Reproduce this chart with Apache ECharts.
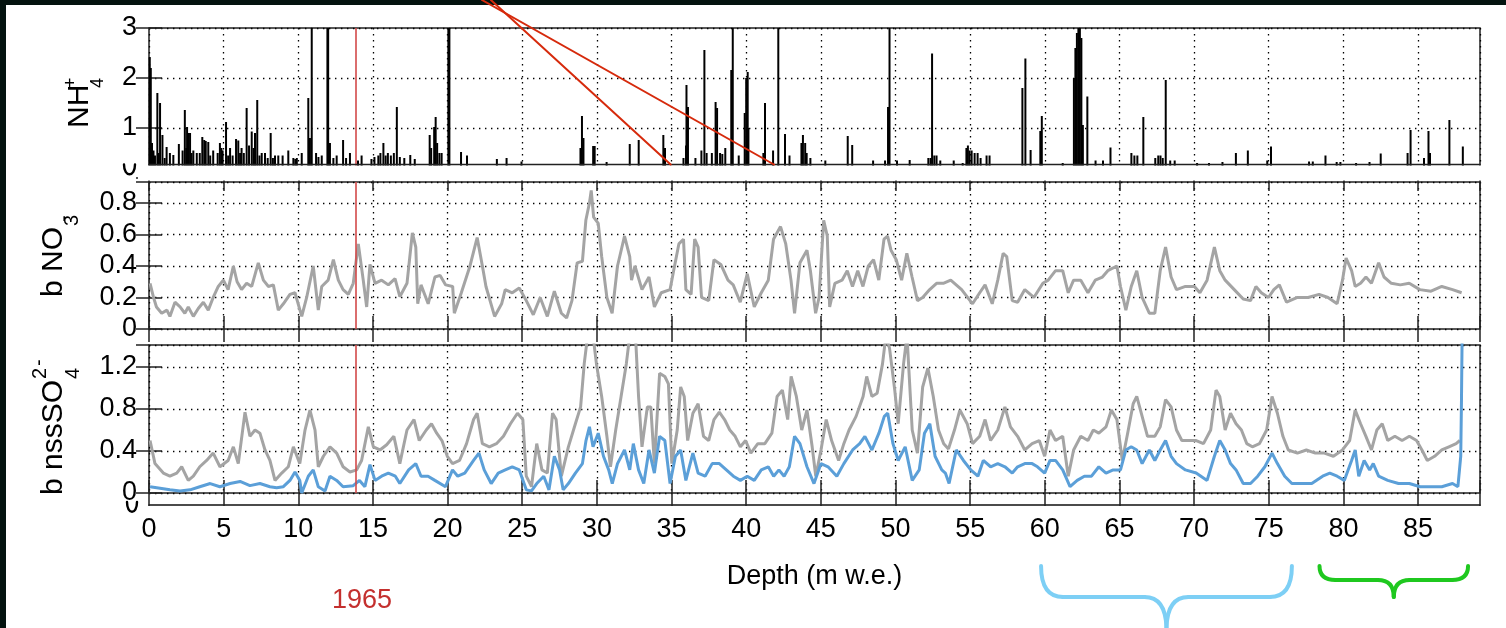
<!DOCTYPE html>
<html>
<head>
<meta charset="utf-8">
<script src="https://cdn.jsdelivr.net/npm/echarts@6/dist/echarts.min.js"></script>
<style>
  html, body { margin: 0; padding: 0; background: #ffffff; }
  #chart { width: 1506px; height: 628px; }
</style>
</head>
<body>
<div id="chart"></div>
<script>
// ---- Ice-core records against depth (m w.e.) ----

// NH4+ concentration peaks: [depth, value]
const nh4Peaks = [
  [0.05,2.42],[0.12,2.2],[0.2,0.7],[0.3,0.55],[0.4,0.45],[0.56,1.7],[0.65,0.5],[0.74,1.5],[0.9,0.86],[1.05,0.4],
  [1.18,0.62],[1.4,0.5],[1.63,0.46],[2.0,0.68],[2.25,0.55],[2.4,1.36],[2.5,0.6],[2.55,1.02],[2.65,0.9],[2.75,0.9],
  [2.85,0.5],[2.97,0.55],[3.2,0.5],[3.4,0.5],[3.57,0.82],[3.7,0.76],[3.8,0.74],[3.97,0.72],[4.1,0.45],[4.3,0.55],
  [4.6,0.5],[4.75,0.7],[4.85,0.6],[4.93,0.55],[5.16,1.12],[5.3,0.45],[5.43,0.6],[5.6,0.45],[5.83,0.78],[5.98,0.75],
  [6.1,0.5],[6.2,0.6],[6.35,0.5],[6.54,1.4],[6.7,0.65],[6.88,0.93],[7.0,0.6],[7.1,0.9],[7.25,1.56],[7.4,0.45],
  [7.55,0.5],[7.77,0.5],[7.95,0.4],[8.15,0.9],[8.3,0.4],[8.44,0.45],[8.66,0.45],[8.95,0.45],[9.33,0.55],[9.67,0.4],
  [9.8,0.38],[9.9,0.4],[10.23,0.5],[10.67,1.6],[10.78,0.8],[10.9,3.2],[11.19,0.5],[11.35,0.42],[11.57,0.45],[11.95,3.2],
  [12.0,3.2],[12.12,0.7],[12.35,0.4],[12.57,0.45],[13.0,0.76],[13.2,0.4],[13.46,0.5],[14.0,0.35],[14.24,0.45],[14.9,0.38],
  [15.1,0.42],[15.36,0.45],[15.5,0.5],[15.7,0.7],[15.85,0.45],[16.0,0.5],[16.2,0.45],[16.4,0.5],[16.6,1.42],[16.8,0.42],
  [17.1,0.4],[17.5,0.46],[17.8,0.38],[18.8,0.86],[18.9,0.6],[19.1,1.02],[19.2,1.22],[19.3,0.7],[19.45,0.5],[19.6,0.5],
  [20.05,3.2],[20.12,3.2],[20.9,0.52],[21.3,0.45],[23.3,0.38],[23.95,0.4],[24.95,0.33],[28.9,0.6],[29.0,1.24],[29.1,0.8],
  [29.75,0.64],[29.85,0.64],[30.65,0.32],[32.2,0.68],[32.8,0.76],[34.45,0.86],[34.56,0.6],[35.8,0.4],[35.97,0.65],[36.0,1.86],
  [36.1,1.42],[36.6,0.4],[37.0,0.55],[37.2,2.56],[37.35,0.5],[37.7,0.5],[37.95,1.52],[38.05,1.4],[38.25,0.5],[38.4,0.48],
  [38.6,0.6],[39.0,2.16],[39.1,3.2],[39.5,0.45],[39.9,1.3],[40.0,2.0],[40.1,2.12],[40.15,1.0],[41.15,0.5],[41.26,1.5],
  [41.8,0.55],[42.15,3.2],[42.6,0.88],[42.9,0.45],[43.7,0.7],[43.8,0.86],[43.95,0.7],[44.05,0.5],[44.3,0.4],[45.3,0.35],
  [46.8,0.84],[47.1,0.66],[48.5,0.35],[49.3,0.35],[49.5,1.42],[49.6,3.2],[50.1,0.35],[50.95,0.36],[52.2,0.4],[52.35,0.4],
  [52.45,2.49],[52.6,0.45],[52.75,0.45],[53.0,0.35],[53.9,0.35],[54.5,0.3],[54.75,0.6],[54.85,0.65],[54.96,0.55],[55.1,0.55],
  [55.3,0.5],[55.5,0.5],[55.7,0.4],[56.1,0.45],[56.3,0.45],[58.5,1.8],[58.7,2.39],[59.05,0.56],[59.7,0.94],[59.8,1.24],
  [61.2,0.3],[61.95,2.0],[62.05,2.6],[62.15,2.9],[62.25,3.2],[62.35,3.2],[62.45,2.8],[62.55,1.06],[62.85,1.63],[63.4,0.35],
  [63.9,0.35],[64.4,0.61],[65.8,0.5],[66.0,0.45],[66.2,0.45],[66.6,1.22],[67.4,0.4],[67.6,0.45],[67.75,0.45],[67.9,0.4],
  [68.1,1.96],[68.4,0.35],[68.7,0.35],[70.2,0.3],[71.0,0.3],[71.9,0.32],[72.8,0.5],[73.6,0.55],[74.9,0.35],[75.15,0.63],
  [77.7,0.33],[77.95,0.33],[78.8,0.45],[79.55,0.32],[79.8,0.32],[80.85,0.3],[81.75,0.32],[82.5,0.49],[84.3,0.5],[84.5,0.96],
  [85.4,0.4],[85.7,0.94],[85.8,0.5],[87.1,1.16],[88.0,0.63]
];

// b NO3- record: [depth, value]
const no3Trace = [
  [0.07,0.29],[0.29,0.205],[0.5,0.14],[0.85,0.1],[1.2,0.12],[1.4,0.08],[1.74,0.17],[2.08,0.14],[2.4,0.1],[2.63,0.14],
  [2.97,0.08],[3.3,0.13],[3.64,0.17],[3.97,0.12],[4.3,0.2],[4.64,0.27],[4.98,0.31],[5.3,0.25],[5.65,0.4],[5.9,0.3],
  [6.2,0.25],[6.54,0.29],[6.88,0.27],[7.32,0.42],[7.66,0.31],[8.0,0.27],[8.33,0.28],[8.66,0.12],[9.0,0.16],[9.44,0.22],
  [9.78,0.23],[10.23,0.08],[10.56,0.2],[11.0,0.4],[11.34,0.12],[11.57,0.27],[12.0,0.31],[12.35,0.44],[12.68,0.31],[13.0,0.25],
  [13.35,0.22],[13.68,0.29],[14.02,0.54],[14.35,0.31],[14.58,0.14],[14.8,0.41],[15.14,0.29],[15.58,0.31],[16.03,0.28],[16.48,0.32],
  [16.8,0.205],[17.28,0.29],[17.64,0.61],[17.87,0.52],[18.0,0.16],[18.22,0.28],[18.7,0.16],[19.15,0.33],[19.5,0.34],[19.87,0.28],
  [20.34,0.27],[20.45,0.1],[20.92,0.23],[21.5,0.4],[21.98,0.58],[22.33,0.4],[22.57,0.27],[23.15,0.08],[23.62,0.16],[23.86,0.25],
  [24.33,0.23],[24.8,0.26],[25.27,0.18],[25.74,0.09],[26.2,0.2],[26.68,0.08],[27.15,0.24],[27.62,0.1],[27.97,0.07],[28.33,0.18],
  [28.68,0.42],[29.03,0.43],[29.26,0.69],[29.5,0.8],[29.62,0.88],[29.78,0.71],[30.09,0.67],[30.32,0.46],[30.67,0.2],[31.02,0.1],
  [31.38,0.4],[31.85,0.59],[32.2,0.46],[32.32,0.31],[32.55,0.4],[33.02,0.25],[33.49,0.33],[33.85,0.14],[34.31,0.23],[34.9,0.25],
  [35.14,0.37],[35.49,0.54],[35.8,0.57],[35.96,0.25],[36.31,0.22],[36.55,0.57],[36.78,0.52],[37.01,0.2],[37.49,0.18],[37.84,0.44],
  [38.3,0.41],[38.78,0.31],[39.13,0.28],[39.6,0.17],[40.07,0.35],[40.54,0.14],[41.01,0.23],[41.48,0.31],[41.83,0.57],[42.3,0.65],
  [42.65,0.54],[43.0,0.31],[43.24,0.1],[43.6,0.42],[44.07,0.5],[44.3,0.37],[44.65,0.1],[44.88,0.2],[45.19,0.69],[45.43,0.59],
  [45.59,0.14],[45.94,0.29],[46.42,0.31],[46.77,0.37],[47.12,0.27],[47.47,0.37],[47.82,0.27],[48.18,0.4],[48.53,0.44],[48.88,0.31],
  [49.23,0.57],[49.47,0.59],[49.7,0.5],[50.05,0.44],[50.41,0.31],[50.76,0.48],[51.11,0.33],[51.47,0.18],[51.82,0.2],[52.29,0.25],
  [52.75,0.29],[53.2,0.29],[53.7,0.31],[54.43,0.25],[55.16,0.16],[55.64,0.23],[56.0,0.28],[56.48,0.16],[56.85,0.31],[57.21,0.48],
  [57.45,0.46],[57.82,0.18],[58.18,0.17],[58.66,0.25],[59.27,0.2],[59.87,0.29],[60.23,0.31],[60.72,0.37],[61.2,0.37],[61.57,0.23],
  [61.93,0.31],[62.41,0.31],[62.89,0.23],[63.38,0.31],[63.86,0.33],[64.22,0.37],[64.83,0.4],[65.07,0.27],[65.43,0.12],[65.79,0.27],
  [66.16,0.37],[66.52,0.2],[67.0,0.1],[67.37,0.1],[67.73,0.37],[68.09,0.52],[68.46,0.33],[68.82,0.25],[69.42,0.27],[70.02,0.27],
  [70.39,0.23],[70.87,0.31],[71.36,0.52],[71.72,0.37],[72.08,0.31],[72.69,0.25],[73.29,0.19],[73.78,0.18],[74.14,0.27],[74.5,0.23],
  [74.98,0.2],[75.34,0.25],[75.71,0.28],[76.19,0.17],[76.92,0.2],[77.64,0.2],[78.37,0.22],[78.97,0.2],[79.58,0.16],[79.94,0.31],
  [80.18,0.45],[80.55,0.37],[80.79,0.27],[81.15,0.29],[81.51,0.33],[81.88,0.29],[82.36,0.42],[82.72,0.33],[83.21,0.29],[83.81,0.28],
  [84.41,0.29],[85.12,0.25],[85.87,0.24],[86.59,0.27],[87.31,0.25],[87.92,0.23]
];

// b nssSO4 2- record, grey curve: [depth, value]
const so4Grey = [
  [0.07,0.5],[0.4,0.28],[0.96,0.19],[1.4,0.16],[1.86,0.19],[2.19,0.25],[2.63,0.12],[2.97,0.16],[3.4,0.25],[3.86,0.31],
  [4.3,0.38],[4.75,0.25],[5.3,0.31],[5.65,0.44],[5.98,0.28],[6.43,0.77],[6.76,0.54],[7.1,0.6],[7.43,0.57],[7.77,0.41],
  [8.1,0.31],[8.44,0.12],[8.89,0.19],[9.33,0.25],[9.67,0.44],[10.1,0.28],[10.45,0.6],[10.78,0.79],[11.12,0.6],[11.34,0.25],
  [11.68,0.35],[12.12,0.44],[12.57,0.38],[13.0,0.25],[13.46,0.2],[13.91,0.22],[14.24,0.31],[14.69,0.63],[15.03,0.44],[15.47,0.41],
  [15.92,0.46],[16.4,0.54],[16.8,0.28],[17.28,0.6],[17.75,0.7],[18.1,0.5],[18.57,0.6],[18.92,0.66],[19.27,0.57],[19.62,0.5],
  [19.98,0.35],[20.33,0.28],[20.8,0.31],[21.27,0.47],[21.74,0.7],[21.98,0.76],[22.33,0.47],[22.8,0.44],[23.27,0.47],[23.74,0.54],
  [24.21,0.66],[24.68,0.76],[25.04,0.7],[25.27,0.16],[25.62,0.06],[25.97,0.47],[26.32,0.22],[26.68,0.19],[27.03,0.76],[27.27,0.7],
  [27.62,0.16],[28.09,0.44],[28.56,0.66],[28.91,0.82],[29.15,1.23],[29.38,1.5],[29.74,1.5],[29.97,1.23],[30.32,0.92],[30.67,0.54],
  [30.91,0.25],[31.26,0.6],[31.62,0.92],[31.97,1.23],[32.2,1.5],[32.55,1.6],[32.79,0.92],[33.02,0.44],[33.38,0.82],[33.61,0.82],
  [33.85,0.28],[34.2,1.14],[34.55,1.11],[34.79,1.04],[35.02,0.28],[35.38,0.6],[35.61,1.01],[35.85,0.92],[36.08,0.5],[36.43,0.76],
  [36.78,0.85],[37.14,0.54],[37.49,0.5],[37.84,0.7],[38.2,0.77],[38.55,0.7],[38.9,0.6],[39.26,0.54],[39.61,0.44],[39.96,0.5],
  [40.31,0.38],[40.78,0.47],[41.25,0.47],[41.72,0.57],[42.07,0.92],[42.42,0.98],[42.78,0.7],[43.01,1.11],[43.36,0.92],[43.72,0.6],
  [44.07,0.79],[44.42,0.44],[44.66,0.16],[45.01,0.41],[45.36,0.7],[45.72,0.5],[46.19,0.31],[46.54,0.47],[46.89,0.6],[47.36,0.73],
  [47.83,0.92],[48.07,1.11],[48.42,0.92],[48.77,0.95],[49.13,1.23],[49.36,1.5],[49.6,1.38],[49.95,0.98],[50.18,0.66],[50.54,1.23],
  [50.77,1.5],[51.12,0.6],[51.47,0.38],[51.82,1.01],[52.17,1.19],[52.53,0.92],[52.88,0.6],[53.23,0.47],[53.55,0.42],[53.95,0.6],
  [54.31,0.79],[54.8,0.66],[55.16,0.47],[55.64,0.54],[56.0,0.7],[56.37,0.5],[56.85,0.6],[57.33,0.82],[57.7,0.63],[58.18,0.54],
  [58.66,0.41],[59.15,0.47],[59.63,0.5],[59.99,0.35],[60.35,0.6],[60.72,0.5],[61.2,0.54],[61.57,0.16],[61.93,0.41],[62.41,0.54],
  [62.89,0.5],[63.25,0.6],[63.62,0.57],[64.1,0.63],[64.46,0.79],[64.83,0.7],[65.19,0.31],[65.55,0.57],[65.92,0.85],[66.16,0.92],
  [66.52,0.73],[66.88,0.54],[67.37,0.54],[67.73,0.63],[68.09,0.89],[68.46,0.82],[68.82,0.6],[69.18,0.5],[69.66,0.5],[70.14,0.5],
  [70.63,0.47],[71.11,0.6],[71.47,0.98],[71.72,0.92],[72.08,0.6],[72.44,0.76],[72.81,0.66],[73.17,0.6],[73.53,0.47],[73.9,0.44],
  [74.38,0.47],[74.86,0.6],[75.22,0.92],[75.58,0.76],[75.95,0.54],[76.31,0.41],[76.92,0.38],[77.52,0.41],[78.12,0.38],[78.73,0.38],
  [79.33,0.35],[79.94,0.41],[80.42,0.5],[80.79,0.79],[81.15,0.66],[81.51,0.54],[81.88,0.41],[82.24,0.6],[82.6,0.66],[82.97,0.5],
  [83.45,0.54],[83.93,0.5],[84.42,0.54],[84.9,0.5],[85.26,0.41],[85.62,0.31],[86.11,0.35],[86.59,0.41],[87.07,0.44],[87.55,0.47],
  [87.8,0.5]
];

// b nssSO4 2- record, blue curve: [depth, value]
const so4Blue = [
  [0.07,0.06],[0.74,0.045],[1.4,0.03],[2.08,0.02],[2.75,0.03],[3.4,0.06],[4.1,0.09],[4.75,0.06],[5.43,0.09],[6.1,0.11],
  [6.76,0.07],[7.43,0.09],[8.1,0.06],[8.55,0.05],[9.0,0.06],[9.44,0.12],[9.78,0.2],[10.1,0.12],[10.23,0.0],[10.67,0.16],
  [11.0,0.22],[11.34,0.06],[11.79,0.02],[12.12,0.16],[12.57,0.12],[13.0,0.06],[13.68,0.07],[14.1,0.12],[14.46,0.06],[14.8,0.27],
  [15.14,0.12],[15.58,0.16],[16.03,0.19],[16.5,0.16],[16.8,0.09],[17.39,0.22],[17.87,0.28],[18.22,0.16],[18.69,0.16],[19.15,0.12],
  [19.86,0.06],[20.33,0.22],[20.68,0.16],[21.15,0.19],[21.74,0.31],[22.1,0.38],[22.45,0.22],[22.92,0.09],[23.39,0.19],[23.86,0.22],
  [24.33,0.25],[24.8,0.22],[25.27,0.03],[25.62,0.02],[25.97,0.09],[26.44,0.16],[26.79,0.03],[27.15,0.35],[27.5,0.22],[27.74,0.03],
  [28.09,0.09],[28.56,0.19],[29.03,0.28],[29.27,0.5],[29.5,0.63],[29.74,0.44],[30.09,0.57],[30.44,0.35],[30.79,0.22],[31.03,0.09],
  [31.38,0.28],[31.85,0.41],[32.2,0.22],[32.44,0.47],[32.79,0.22],[33.14,0.09],[33.49,0.41],[33.85,0.19],[34.2,0.54],[34.55,0.5],
  [34.9,0.09],[35.26,0.35],[35.61,0.41],[35.96,0.12],[36.43,0.38],[36.78,0.19],[37.25,0.16],[37.72,0.28],[38.2,0.28],[38.67,0.22],
  [39.14,0.16],[39.61,0.12],[40.07,0.16],[40.54,0.12],[41.01,0.22],[41.48,0.25],[41.84,0.16],[42.19,0.22],[42.54,0.16],[42.89,0.25],
  [43.24,0.54],[43.6,0.47],[44.07,0.25],[44.54,0.09],[45.01,0.28],[45.48,0.25],[46.07,0.16],[46.54,0.28],[47.13,0.41],[47.6,0.47],
  [47.95,0.54],[48.42,0.41],[48.89,0.57],[49.25,0.73],[49.48,0.76],[49.83,0.47],[50.18,0.31],[50.65,0.44],[51.12,0.12],[51.59,0.22],
  [51.94,0.57],[52.3,0.66],[52.65,0.35],[53.1,0.22],[53.34,0.19],[53.59,0.09],[54.07,0.41],[54.55,0.31],[55.04,0.22],[55.52,0.16],
  [55.88,0.31],[56.37,0.25],[56.85,0.28],[57.33,0.25],[57.82,0.19],[58.18,0.25],[58.66,0.28],[59.15,0.28],[59.51,0.25],[59.99,0.19],
  [60.35,0.31],[60.72,0.31],[61.2,0.22],[61.69,0.06],[62.17,0.12],[62.65,0.16],[63.13,0.16],[63.62,0.25],[64.1,0.19],[64.58,0.22],
  [65.07,0.22],[65.43,0.41],[65.79,0.44],[66.16,0.41],[66.52,0.28],[67.0,0.41],[67.37,0.31],[67.73,0.41],[68.09,0.5],[68.46,0.35],
  [68.82,0.28],[69.42,0.22],[70.14,0.19],[70.87,0.12],[71.36,0.35],[71.72,0.5],[72.08,0.41],[72.44,0.28],[72.81,0.22],[73.29,0.09],
  [73.78,0.09],[74.26,0.16],[74.74,0.25],[75.22,0.38],[75.58,0.28],[76.07,0.16],[76.55,0.09],[77.16,0.09],[77.88,0.09],[78.61,0.16],
  [79.09,0.19],[79.58,0.16],[80.06,0.12],[80.55,0.31],[80.79,0.41],[81.03,0.16],[81.39,0.31],[81.76,0.22],[82.0,0.28],[82.36,0.16],
  [82.97,0.12],[83.69,0.09],[84.42,0.09],[85.14,0.06],[85.87,0.06],[86.59,0.06],[87.31,0.09],[87.67,0.06],[87.86,0.35],[87.91,0.89],
  [87.96,1.6]
];

// Axis extents and tick steps
const depthMax = 89.15;
const depthStep = 5;
const nh4Axis = { max: 3, step: 1 };
const no3Axis = { max: 0.933, step: 0.2 };
const so4Axis = { max: 1.41, step: 0.4 };

// Annotations
const year1965Depth = 13.86;
const pointerFrom = [22.9, 22.3];     // depth where the red pointers leave the top edge
const pointerTo = [34.94, 41.86];     // depth where they meet the NH4+ panel
const blueBraceSpan = [59.75, 76.55];
const greenBraceSpan = [78.4, 88.35];

// ---- layout ----
const FONT = '"Liberation Sans", Arial, Helvetica, sans-serif';
const PLOT_LEFT = 149, PLOT_W = 1331;
const panels = [
  { top: 28, height: 150 },   // NH4+ (lower strip hidden behind the next panel)
  { top: 182, height: 147 },  // NO3-
  { top: 345, height: 148 }   // nssSO4 2-
];
const NH4_VISIBLE_BOTTOM = 164.5;

const tickStyle = { color: '#222', width: 1.5 };
const dotStyle = { color: '#000', width: 1.3, type: [1.4, 4.6] };

function xAxisBottom(gi) {
  return {
    type: 'value', gridIndex: gi, position: 'bottom', min: 0, max: depthMax, interval: depthStep,
    axisLine: { show: false },
    axisTick: { show: gi !== 0, inside: true, length: 13, lineStyle: tickStyle },
    axisLabel: { show: false },
    splitLine: { show: true, lineStyle: dotStyle }
  };
}
function xAxisTop(gi) {
  return {
    type: 'value', gridIndex: gi, position: 'top', min: 0, max: depthMax, interval: depthStep,
    axisLine: { show: false },
    axisTick: { show: true, inside: true, length: 13, lineStyle: tickStyle },
    axisLabel: { show: false }, splitLine: { show: false }
  };
}
function yAxisLeft(gi, ax, fmt) {
  return {
    type: 'value', gridIndex: gi, position: 'left', min: 0, max: ax.max, interval: ax.step,
    axisLine: { show: false },
    axisTick: { show: true, inside: true, length: 13, lineStyle: tickStyle },
    axisLabel: {
      show: true, color: '#000', fontFamily: FONT, fontSize: 27, margin: 12,
      showMaxLabel: ax.max % ax.step === 0, formatter: fmt
    },
    splitLine: { show: true, lineStyle: dotStyle }
  };
}
function yAxisRight(gi, ax) {
  return {
    type: 'value', gridIndex: gi, position: 'right', min: 0, max: ax.max, interval: ax.step,
    axisLine: { show: false },
    axisTick: { show: true, inside: true, length: 13, lineStyle: tickStyle },
    axisLabel: { show: false }, splitLine: { show: false }
  };
}

function yearMark() {
  return {
    silent: true, symbol: 'none', animation: false,
    label: { show: false },
    lineStyle: { color: '#d24a4a', width: 1.6, type: 'solid' },
    data: [{ xAxis: year1965Depth }]
  };
}

const chart = echarts.init(document.getElementById('chart'), null, { renderer: 'canvas' });

chart.setOption({
  animation: false,
  backgroundColor: '#ffffff',
  grid: panels.map(p => ({
    left: PLOT_LEFT, top: p.top, width: PLOT_W, height: p.height,
    show: true, borderColor: '#222', borderWidth: 1.5, backgroundColor: 'transparent'
  })),
  xAxis: [
    xAxisBottom(0), xAxisTop(0),
    xAxisBottom(1), xAxisTop(1),
    xAxisBottom(2), xAxisTop(2),
    {
      type: 'value', gridIndex: 2, position: 'bottom', offset: 12,
      min: 0, max: depthMax, interval: depthStep,
      axisLine: { show: true, lineStyle: { color: '#111', width: 1.5 } },
      axisTick: { show: false },
      axisLabel: { show: true, color: '#000', fontFamily: FONT, fontSize: 27, margin: 11, showMaxLabel: false },
      splitLine: { show: false },
      name: 'Depth (m w.e.)', nameLocation: 'middle', nameGap: 58,
      nameTextStyle: { color: '#000', fontFamily: FONT, fontSize: 27 }
    }
  ],
  yAxis: [
    yAxisLeft(0, nh4Axis, v => (v === 0 ? '' : String(v))), yAxisRight(0, nh4Axis),
    yAxisLeft(1, no3Axis), yAxisRight(1, no3Axis),
    yAxisLeft(2, so4Axis), yAxisRight(2, so4Axis)
  ],
  series: [
    {
      name: 'NH4+', type: 'bar', xAxisIndex: 0, yAxisIndex: 0,
      data: nh4Peaks, barWidth: 2, itemStyle: { color: '#000' }, clip: true,
      markLine: yearMark()
    },
    {
      name: 'b NO3-', type: 'line', xAxisIndex: 2, yAxisIndex: 2,
      data: no3Trace, symbol: 'none', clip: true,
      lineStyle: { color: '#a4a4a4', width: 3 },
      markLine: yearMark()
    },
    {
      name: 'b nssSO4 (grey)', type: 'line', xAxisIndex: 4, yAxisIndex: 4,
      data: so4Grey, symbol: 'none', clip: true,
      lineStyle: { color: '#a4a4a4', width: 3 },
      markLine: yearMark()
    },
    {
      name: 'b nssSO4 (blue)', type: 'line', xAxisIndex: 4, yAxisIndex: 4,
      data: so4Blue, symbol: 'none', clip: true,
      lineStyle: { color: '#5b9fd8', width: 3 }
    }
  ]
});

// ---- overlay annotations placed through the depth scale ----
const px = d => chart.convertToPixel({ xAxisIndex: 0 }, d);

function vText(str, x, y, size) {
  return {
    type: 'text', x: x, y: y, rotation: Math.PI / 2, z: 60,
    style: { text: str, fontFamily: FONT, fontSize: size, fill: '#000', align: 'left', verticalAlign: 'middle' }
  };
}
function seg(x1, y1, x2, y2, stroke, w, z) {
  return { type: 'line', z: z || 60, shape: { x1, y1, x2, y2 }, style: { stroke, lineWidth: w, lineCap: 'round' } };
}
function curve(shape, stroke, w, z) {
  return { type: 'bezierCurve', z: z || 60, shape, style: { stroke, lineWidth: w, fill: null, lineCap: 'round' } };
}

// curly brace opening upwards, tip pointing down
function brace(x1, x2, yTop, yMid, yTip, r, color) {
  const xm = (x1 + x2) / 2;
  return [
    curve({ x1: x1, y1: yTop, cpx1: x1, cpy1: yMid, x2: x1 + r, y2: yMid }, color, 4),
    seg(x1 + r, yMid, xm - r, yMid, color, 4),
    curve({ x1: xm - r, y1: yMid, cpx1: xm, cpy1: yMid, x2: xm, y2: yTip }, color, 4),
    curve({ x1: x2, y1: yTop, cpx1: x2, cpy1: yMid, x2: x2 - r, y2: yMid }, color, 4),
    seg(x2 - r, yMid, xm + r, yMid, color, 4),
    curve({ x1: xm + r, y1: yMid, cpx1: xm, cpy1: yMid, x2: xm, y2: yTip }, color, 4)
  ];
}

// lower half of a "0" glyph peeking out below a panel edge
function zeroTail(xl, xr, y) {
  return curve({ x1: xl, y1: y, cpx1: xl, cpy1: y + 13, cpx2: xr, cpy2: y + 13, x2: xr, y2: y }, '#000', 2.4, 52);
}

const plotRight = PLOT_LEFT + PLOT_W;
let graphics = [
  // strip of the NH4+ panel hidden under the NO3- panel
  { type: 'rect', z: 50, shape: { x: 138, y: 165.5, width: plotRight - 138 + 10, height: 15 }, style: { fill: '#ffffff' } },
  seg(PLOT_LEFT, NH4_VISIBLE_BOTTOM, plotRight, NH4_VISIBLE_BOTTOM, '#222', 1.5, 51),
  zeroTail(124, 135, 164.5),
  zeroTail(127, 137, 502),
  // dark frame edges
  { type: 'rect', z: 70, shape: { x: 0, y: 0, width: 1506, height: 5 }, style: { fill: '#04130f' } },
  { type: 'rect', z: 70, shape: { x: 0, y: 0, width: 6, height: 628 }, style: { fill: '#04130f' } },
  // axis titles
  vText('NH', 80, 128, 30),
  vText('+', 71, 88, 18),
  vText('4', 98, 88, 18),
  vText('b NO', 54, 297, 30),
  vText('3', 72.5, 226, 20),
  vText('-', 64, 222, 20),
  vText('b nssSO', 54, 495, 30),
  vText('4', 73, 379, 20),
  vText('2', 40, 379, 20),
  vText('-', 39, 366, 20),
  // year marker label
  {
    type: 'text', z: 60, x: px(year1965Depth) + 6, y: 601,
    style: { text: '1965', fontFamily: FONT, fontSize: 27, fill: '#c4302e', align: 'center', verticalAlign: 'middle' }
  }
];
graphics = graphics
  .concat(brace(px(blueBraceSpan[0]), px(blueBraceSpan[1]), 566, 597, 630, 22, '#7dcff5'))
  .concat(brace(px(greenBraceSpan[0]), px(greenBraceSpan[1]), 566, 580, 597, 16, '#1fc81f'));

// red pointers into the NH4+ panel
pointerFrom.forEach((d0, i) => {
  graphics.push(seg(px(d0), 0, px(pointerTo[i]), NH4_VISIBLE_BOTTOM, '#d62a0c', 2, 80));
});

chart.setOption({ graphic: graphics });
</script>
</body>
</html>
